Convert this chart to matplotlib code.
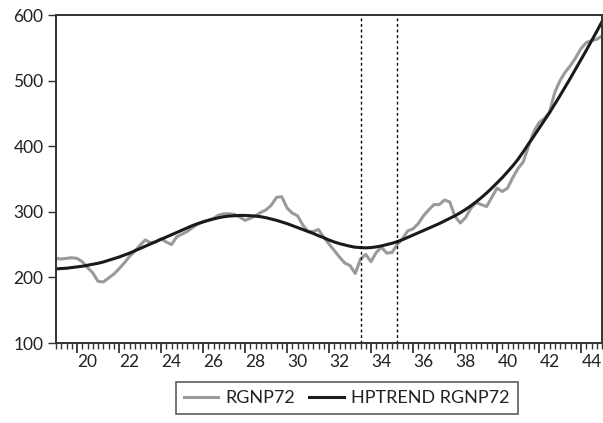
import numpy as np
import matplotlib
matplotlib.use("Agg")
import matplotlib.pyplot as plt
from matplotlib.ticker import MultipleLocator, FixedLocator, NullFormatter

plt.rcParams['font.family'] = ['Lato', 'DejaVu Sans']

start_year = 1919
rgnp72 = [229, 228, 229, 230, 229, 224, 215, 207, 194, 193,
          199, 205, 213, 222, 232, 240, 249, 257, 253, 254,
          259, 254, 250, 262, 266, 270, 276, 281, 285, 287,
          290, 295, 297, 297, 296, 292, 287, 290, 294, 299,
          303, 310, 322, 323, 306, 298, 294, 280, 270, 270,
          273, 261, 251, 241, 231, 222, 218, 206, 228, 235,
          224, 238, 246, 237, 238, 250, 259, 271, 274, 282,
          294, 303, 311, 311, 318, 315, 293, 283, 291, 305,
          314, 311, 308, 322, 336, 331, 336, 352, 366, 376,
          400, 422, 436, 442, 452, 482, 500, 513, 523, 535,
          549, 558, 561, 563, 568]
hptrend = [213, 213.5, 214, 215, 216, 217, 218.5, 220, 221.5, 223.5,
           226, 228.5, 231, 234, 237, 240.5, 244, 247.5, 251, 254.5,
           258, 261.5, 265, 268.5, 272, 275.5, 279, 282, 284.5, 287,
           289, 291, 292.5, 293.5, 294, 294.5, 294.5, 294, 293.5, 292.5,
           291, 289, 287, 284.5, 282, 279, 276, 273, 270, 267,
           263.5, 260.5, 257, 254, 251.5, 249.5, 247.5, 246, 245.5, 245,
           245.5, 246.5, 248, 250, 252, 254.5, 257.5, 261, 264.5, 268,
           271.5, 275, 278.5, 282, 286, 290, 294, 298.5, 303.5, 309,
           315, 321.5, 328.5, 336, 344, 352, 361, 370, 380, 391.5,
           403.5, 415, 427, 439, 451, 464, 477, 490.5, 504, 518,
           532, 546, 560.5, 575, 590]
vlines = [1933.5, 1935.25]
xtick_years = list(range(1920, 1946, 2))
xtick_labels = [str(y % 100) for y in xtick_years]

x = start_year + np.arange(len(rgnp72)) / 4.0

fig = plt.figure(figsize=(6.03, 4.23), dpi=100)
ax = fig.add_axes([56/603, 1 - 343/423, 546/603, 328/423])

l1, = ax.plot(x, rgnp72, color='#9a9a9a', lw=2.2, label='RGNP72', solid_joinstyle='round')
l2, = ax.plot(x, hptrend, color='#1a1a1a', lw=2.2, label='HPTREND RGNP72')
for v in vlines:
    ax.axvline(v, color='black', lw=1.0, ls=(0, (2, 2)))

ax.set_xlim(1919, 1945)
ax.set_ylim(100, 600)
ax.set_yticks([100, 200, 300, 400, 500, 600])

# major ticks at year starts, labels centered mid-year
ax.xaxis.set_major_locator(FixedLocator(xtick_years))
ax.xaxis.set_major_formatter(NullFormatter())
ax.xaxis.set_minor_locator(MultipleLocator(0.25))
for yr, lab in zip(xtick_years, xtick_labels):
    if yr + 0.5 < 1945:
        ax.text(yr + 0.5, -0.035, lab, transform=ax.get_xaxis_transform(),
                ha='center', va='top', fontsize=12.5, color='#222222')

ax.tick_params(axis='x', which='major', direction='out', length=7, width=1.3, color='#333333')
ax.tick_params(axis='x', which='minor', direction='out', length=4, width=1.0, color='#333333')
ax.tick_params(axis='y', which='major', direction='out', length=6, width=1.0, color='#333333',
               labelsize=12.5, labelcolor='#222222', pad=3)
ax.tick_params(axis='y', which='minor', left=False)

for s in ax.spines.values():
    s.set_linewidth(1.4)
    s.set_color('#333333')

leg = fig.legend(handles=[l1, l2], loc='center', bbox_to_anchor=(346.5/603, 1 - 398/423),
                 ncol=2, frameon=True, fancybox=False, fontsize=13, handlelength=1.9,
                 handletextpad=0.4, columnspacing=0.8, borderpad=0.45)
leg.get_frame().set_edgecolor('#333333')
leg.get_frame().set_linewidth(1.2)
for t in leg.get_texts():
    t.set_color('#222222')

fig.savefig('out.png', dpi=100)
